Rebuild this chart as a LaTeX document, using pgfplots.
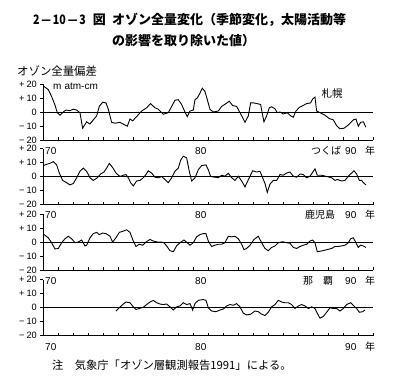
\documentclass[border=0pt]{standalone}
\usepackage{pgfplots}
\pgfplotsset{compat=1.18}
\usepackage{graphicx}
\usepackage{fontspec}
\setmainfont{Liberation Sans}
\newfontfamily\jp{Noto Sans CJK JP}
\newcommand\fs[1]{\fontsize{#1}{#1}\selectfont}
\pgfplotsset{panel/.style={
  scale only axis, width=330pt, height=56pt,
  xmin=0, xmax=22, ymin=-20, ymax=20,
  axis x line*=bottom, axis y line*=left,
  axis line style={-, line width=0.8pt},
  xtick={0,1,...,22}, xticklabels={},
  ytick={-20,-10,0,10,20},
  yticklabels={−\hspace{2pt}20,−\hspace{2pt}10,0,+\hspace{2pt}10,+\hspace{2pt}20},
  tick align=outside, major tick length=3pt,
  every x tick/.append style={yshift=3pt},
  tick style={line width=0.7pt, black},
  tick label style={font=\fs{9.2}},
  clip=false,
  anchor=south west,
}}
\begin{document}
\begin{tikzpicture}[x=1pt,y=1pt]
\path[use as bounding box] (0,0) rectangle (393,384);
% Sapporo
\begin{axis}[panel, at={(43.3pt,244pt)}]
\addplot[black, line width=0.6pt] coordinates {(0,0) (22,0)};
\addplot[black, line width=0.9pt] coordinates {(0,18.6) (0.333,16) (0.556,11) (0.778,5) (0.933,-0.5) (1.111,-2.3) (1.333,0) (1.511,1.4) (1.778,1) (2.0,2) (2.222,1.4) (2.444,-0.5) (2.622,-11.6) (2.889,-7) (3.111,-8.6) (3.333,-5.6) (3.556,-2.8) (3.733,4) (3.956,7) (4.178,6.5) (4.333,2) (4.556,-7.4) (4.778,-8) (5.111,-7.4) (5.444,-9.3) (5.6,-10.2) (5.778,-5) (5.956,-6.3) (6.222,-3.3) (6.556,0.7) (6.889,3) (7.156,6) (7.444,3) (7.667,2) (8.0,-1.6) (8.333,-0.5) (8.556,4) (8.778,8.4) (9.0,8.8) (9.222,5.3) (9.444,0) (9.6,-3.3) (9.778,0.7) (10.0,1.4) (10.111,8.8) (10.267,10) (10.444,13.5) (10.6,17) (10.778,14.7) (10.933,8.8) (11.111,1.9) (11.333,0) (11.667,0.7) (11.889,4) (12.178,6) (12.4,7.7) (12.622,4.6) (12.889,4) (13.111,-0.5) (13.289,-4) (13.444,-7.4) (13.667,-2.8) (13.822,6.5) (14.0,6.5) (14.267,6) (14.489,5.3) (14.622,-2.3) (14.711,-7) (14.889,-2.8) (15.067,3) (15.222,3.7) (15.444,2.3) (15.6,-0.5) (15.778,0) (16.0,-1.4) (16.267,-0.5) (16.489,-2.8) (16.667,-3.7) (16.844,0.7) (17.067,3.3) (17.333,4.7) (17.556,6) (17.822,6.5) (17.956,9.3) (18.111,10.7) (18.222,0.7) (18.444,-0.5) (18.778,-2.3) (19.067,-4.7) (19.333,-5.6) (19.556,-9.8) (19.778,-12) (20.044,-11.6) (20.333,-9.3) (20.667,-5.6) (20.844,-5) (21.0,-10.2) (21.156,-7.4) (21.333,-7) (21.511,-10.9)};
\end{axis}
% Tsukuba
\begin{axis}[panel, at={(43.3pt,179.5pt)}]
\addplot[black, line width=0.6pt] coordinates {(0,0) (22,0)};
\addplot[black, line width=0.9pt] coordinates {(0,7.8) (0.222,8.7) (0.444,9.4) (0.667,10.6) (0.889,8.3) (1.067,2.5) (1.289,-2.8) (1.556,-4.4) (1.778,-6) (2.0,-5) (2.222,-0.9) (2.444,3.7) (2.667,6) (2.889,3.7) (3.111,-0.9) (3.333,-2.8) (3.6,-0.9) (3.822,1.8) (4.044,3.2) (4.222,6) (4.4,9.4) (4.622,6.4) (4.844,2.5) (5.111,0) (5.333,0.9) (5.511,1.4) (5.667,-0.9) (5.822,-4.4) (6.0,-6.7) (6.222,-3.2) (6.444,-2.8) (6.667,-0.9) (6.844,1.4) (7.0,4.1) (7.222,2.5) (7.444,-0.5) (7.667,-0.9) (7.889,0) (8.111,-2.1) (8.333,-4.4) (8.556,-0.9) (8.778,3.7) (9.0,6) (9.156,11.7) (9.333,14.5) (9.556,13.3) (9.733,3.7) (9.889,-3.2) (10.111,-0.9) (10.333,4.8) (10.556,7.8) (10.844,8.3) (11.0,4.8) (11.156,0) (11.444,-0.5) (11.667,-0.9) (11.889,0.9) (12.111,0.2) (12.333,2.3) (12.556,-0.9) (12.778,-2.8) (13.0,0.2) (13.222,-3.2) (13.444,-7.4) (13.733,-0.9) (13.956,4.1) (14.222,3.2) (14.444,3.7) (14.622,-0.9) (14.778,-5) (14.933,-11.3) (15.111,-5.5) (15.333,-2.8) (15.556,-2.8) (15.778,1.4) (16.0,0.9) (16.222,2.5) (16.444,3.2) (16.667,0.2) (16.889,-0.5) (17.111,1.8) (17.333,1.4) (17.556,-0.9) (17.778,0.2) (18.0,3.7) (18.111,5.5) (18.267,0.9) (18.556,0.9) (18.889,0) (19.222,-0.9) (19.444,-2.8) (19.6,-2.1) (19.889,-3.2) (20.111,-2.8) (20.333,0.2) (20.556,2.5) (20.711,4.1) (20.889,1.8) (21.067,-2.8) (21.222,-2.8) (21.333,-4.4) (21.511,-6)};
\end{axis}
% Kagoshima
\begin{axis}[panel, at={(43.3pt,114pt)}]
\addplot[black, line width=0.6pt] coordinates {(0,0) (22,0)};
\addplot[black, line width=0.9pt] coordinates {(0.044,5.3) (0.333,3) (0.556,-0.5) (0.778,-5) (1.0,-4.6) (1.222,-0.5) (1.444,2.3) (1.667,4.1) (1.889,2.3) (2.111,-0.5) (2.333,0) (2.556,1.4) (2.778,-2.8) (2.889,-2.3) (3.111,3) (3.333,6) (3.556,6.9) (3.733,5.3) (3.956,6.4) (4.178,6) (4.444,4.1) (4.622,0) (4.844,3) (5.067,6.9) (5.289,7.6) (5.556,8.7) (5.778,6.9) (6.0,0.7) (6.178,-3.2) (6.4,-1.6) (6.622,-2.3) (6.844,0) (7.111,1.8) (7.333,0.7) (7.6,0) (7.822,0) (8.044,-0.5) (8.222,-2.8) (8.444,-6.2) (8.667,-6.9) (8.889,-2.8) (9.111,-0.5) (9.378,1.4) (9.6,-0.5) (9.778,-2.3) (10.0,-0.5) (10.222,3.7) (10.444,5.3) (10.667,6) (10.844,6) (11.0,0.7) (11.222,-3.2) (11.444,-2.3) (11.667,-1.6) (11.889,-1.6) (12.111,-0.5) (12.333,4.1) (12.556,3.7) (12.778,4.1) (13.0,2.3) (13.222,-1.6) (13.378,-5.5) (13.556,-4.6) (13.778,-2.3) (14.044,1.8) (14.333,4.1) (14.556,-0.5) (14.778,-4.6) (15.0,-6.2) (15.222,-3.9) (15.444,-2.8) (15.667,-0.5) (15.956,0.2) (16.222,-0.5) (16.444,-0.9) (16.667,-3.9) (16.889,-4.6) (17.111,-3.2) (17.333,-2.3) (17.556,-1.6) (17.778,0.7) (17.956,1.4) (18.111,-0.5) (18.267,-6.9) (18.556,-6.4) (18.889,-5.5) (19.222,-4.6) (19.444,-3.2) (19.667,-3.2) (19.889,-2.8) (20.111,-2.3) (20.333,-0.5) (20.489,2.3) (20.667,3) (20.844,-0.5) (21.0,-3.9) (21.156,-2.3) (21.333,-2.8) (21.511,-3.9)};
\end{axis}
% Naha
\begin{axis}[panel, at={(43.3pt,48.5pt)}]
\addplot[black, line width=0.6pt] coordinates {(0,0) (22,0)};
\addplot[black, line width=0.9pt] coordinates {(4.844,-2.5) (5.067,-0.2) (5.289,2.1) (5.511,3.9) (5.778,3.4) (6.0,0.5) (6.178,-1.4) (6.4,-0.7) (6.667,0.2) (6.889,2.1) (7.111,3.9) (7.333,5.1) (7.556,3.4) (7.778,2.5) (8.0,2.1) (8.222,2.5) (8.444,0.5) (8.667,-1.8) (8.889,0.5) (9.111,1.1) (9.333,3.4) (9.556,2.1) (9.778,2.8) (9.956,-1.8) (10.111,2.8) (10.333,5.1) (10.667,5.7) (10.844,5.1) (11.0,-0.2) (11.222,-2.5) (11.511,-3) (11.778,-1.8) (12.0,-1.1) (12.222,1.1) (12.444,2.1) (12.667,1.6) (12.889,2.8) (13.111,0.5) (13.333,-4.1) (13.556,-5.3) (13.822,-4.8) (14.111,-2.5) (14.333,-3) (14.556,-4.8) (14.778,-5.7) (15.0,-3.4) (15.222,0.5) (15.444,2.1) (15.667,5.1) (15.889,3.9) (16.111,3.4) (16.333,3.4) (16.556,2.1) (16.778,-0.7) (17.0,1.1) (17.222,2.1) (17.444,1.1) (17.667,-0.7) (17.889,0.5) (18.111,-0.7) (18.267,-4.1) (18.444,-7.6) (18.667,-6.4) (18.889,-3.4) (19.111,-0.2) (19.333,-0.7) (19.556,-0.7) (19.778,-2.5) (20.0,-0.7) (20.222,2.1) (20.489,3.4) (20.711,1.1) (20.889,-0.7) (21.067,-3.4) (21.289,-3) (21.444,-1.8)};
\end{axis}
% titles
\node[anchor=west, inner sep=0] at (33,364) {\jp\bfseries\fs{13}\scalebox{0.82}[1]{2\,—\,10\,—\,3}};
\node[anchor=east, inner sep=0] at (106,364) {\jp\bfseries\fs{13}図};
\node[anchor=west, inner sep=0] at (112,364) {\jp\bfseries\fs{13}オゾン全量変化（季節変化，太陽活動等};
\node[anchor=west, inner sep=0] at (112,343) {\jp\bfseries\fs{13}の影響を取り除いた値）};
\node[anchor=west, inner sep=0] at (17,313) {\jp\fs{11.4}オゾン全量偏差};
\node[anchor=west, inner sep=0] at (53,298) {\fs{10}m\hspace{3pt}atm-cm};
\node[inner sep=0] at (332,290) {\jp\fs{10.5}札幌};
% x label rows
\foreach \yy in {233, 168.5, 102.5, 37}{
  \node[inner sep=0, font=\fs{10}] at (50.8,\yy) {70};
  \node[inner sep=0, font=\fs{10}] at (200.8,\yy) {80};
  \node[inner sep=0, font=\fs{10}] at (350.8,\yy) {90};
  \node[inner sep=0] at (370,\yy+0.5) {\jp\fs{10}年};
}
\node[inner sep=0] at (326,233.5) {\jp\fs{10}つくば};
\node[inner sep=0] at (320,169) {\jp\fs{10}鹿児島};
\node[inner sep=0] at (318,103) {\jp\fs{10}那\hspace{10pt}覇};
% footnote
\node[anchor=west, inner sep=0] at (52,19) {\jp\fs{11.3}注　気象庁「オゾン層観測報告1991」による。};
\end{tikzpicture}
\end{document}
